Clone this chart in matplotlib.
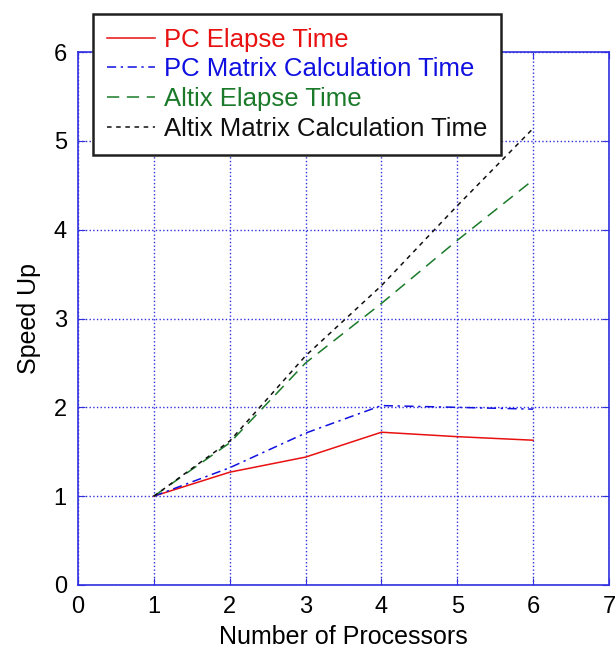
import matplotlib
matplotlib.use("Agg")
import matplotlib.pyplot as plt

plt.rcParams['font.family'] = ['Liberation Sans', 'DejaVu Sans']

processors = [1, 2, 3, 4, 5, 6]
pc_elapse = [1.0, 1.27, 1.44, 1.72, 1.67, 1.63]
pc_matrix = [1.0, 1.32, 1.71, 2.02, 2.00, 1.98]
altix_elapse = [1.0, 1.60, 2.50, 3.17, 3.88, 4.56]
altix_matrix = [1.0, 1.62, 2.58, 3.37, 4.27, 5.14]

labels = ["PC Elapse Time", "PC Matrix Calculation Time",
          "Altix Elapse Time", "Altix Matrix Calculation Time"]
colors = ["#e81010", "#1010e0", "#1a7a2a", "#101010"]
xticks = [0, 1, 2, 3, 4, 5, 6, 7]
yticks = [0, 1, 2, 3, 4, 5, 6]

fig = plt.figure(figsize=(6.16, 6.51), dpi=100)
ax = fig.add_axes([0.1266, 0.1014, 0.862, 0.8186])

series = [pc_elapse, pc_matrix, altix_elapse, altix_matrix]
styles = ['-', (0, (6, 3, 1.5, 3)), (0, (8, 5)), (0, (3, 3))]
lines = []
for vals, lab, col, ls in zip(series, labels, colors, styles):
    ln, = ax.plot(processors, vals, color=col, linestyle=ls, linewidth=1.1, label=lab)
    lines.append(ln)

ax.set_xlim(0, 7)
ax.set_ylim(0, 6)
ax.set_xticks(xticks)
ax.set_yticks(yticks)
ax.grid(True, color='#3030e0', linestyle=':', linewidth=1.0)
for s in ax.spines.values():
    s.set_color('#3030e0')
    s.set_linewidth(1.2)
ax.tick_params(direction='in', colors='#3030e0', labelcolor='black', labelsize=17,
               length=5, top=True, right=True, pad=8)
ax.set_xlabel("Number of Processors", fontsize=18, labelpad=5)
ax.set_ylabel("Speed Up", fontsize=18, labelpad=9)

leg = fig.legend(handles=lines, loc='upper left', bbox_to_anchor=(0.151, 0.979),
                 bbox_transform=fig.transFigure, fontsize=18.5, frameon=True,
                 fancybox=False, framealpha=1, edgecolor='#202020',
                 handlelength=1.85, handletextpad=0.35, borderpad=0.55,
                 labelspacing=0.22, borderaxespad=0)
leg.get_frame().set_linewidth(1.8)
for t, c in zip(leg.get_texts(), colors):
    t.set_color(c)

fig.savefig("out.png", dpi=100)
